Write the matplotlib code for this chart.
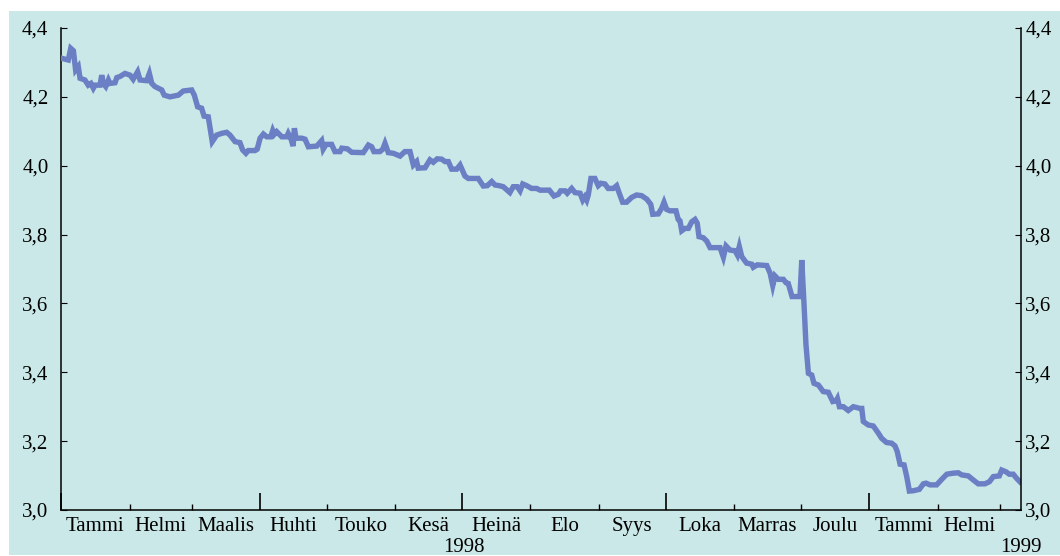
import matplotlib.pyplot as plt
import numpy as np
from matplotlib.patches import Rectangle

# days since 1 Jan 1998 and value
days = [0.3, 3.3, 4.4, 5.6, 6.6, 7.8, 8.6, 10.8, 12.3, 13.5, 14.6, 15.4, 17.6, 18.4,
        19.1, 20.2, 21.4, 22.1, 24.4, 25.2, 26.6, 28.9, 31.2, 32.6, 34.6, 35.7, 38.7,
        39.9, 41.0, 42.4, 45.5, 46.6, 49.2, 53.0, 55.2, 59.0, 60.2, 61.7, 63.5, 64.6,
        66.5, 68.3, 70.3, 72.6, 74.8, 76.3, 78.6, 80.8, 82.0, 83.5, 84.6, 87.6, 88.6,
        89.9, 91.4, 92.9, 94.7, 95.6, 96.3, 97.4, 99.7, 101.9, 102.6, 103.9, 104.8,
        105.4, 106.1, 108.7, 110.2, 111.7, 115.5, 117.7, 118.4, 119.7, 122.2, 123.7,
        126.0, 126.8, 129.3, 131.3, 136.5, 138.8, 140.3, 141.3, 144.0, 145.3, 146.3,
        147.8, 150.1, 153.1, 155.3, 157.6, 159.1, 160.6, 161.3, 164.4, 166.6, 168.1,
        169.9, 171.9, 173.4, 174.9, 176.4, 178.7, 180.2, 182.4, 183.9, 188.4, 190.7,
        192.5, 194.5, 196.0, 197.9, 199.7, 201.5, 202.7, 204.2, 206.0, 207.3, 208.5,
        210.3, 212.5, 214.8, 216.3, 220.5, 222.6, 224.6, 225.6, 227.6, 228.6, 230.6,
        232.1, 234.4, 235.6, 236.6, 237.4, 238.1, 239.3, 241.1, 242.6, 243.8, 245.6,
        247.1, 249.4, 250.9, 252.1, 253.6, 255.4, 257.7, 259.9, 262.2, 264.5, 266.3,
        267.2, 269.7, 271.2, 272.3, 273.5, 275.0, 277.7, 278.7, 279.5, 280.3, 281.8,
        283.3, 284.8, 286.3, 287.3, 288.1, 290.0, 291.6, 293.1, 297.6, 299.1, 300.3,
        302.1, 304.4, 305.4, 306.3, 307.4, 309.6, 311.9, 312.6, 314.4, 318.7, 320.2,
        321.4, 322.4, 323.9, 326.2, 327.4, 328.4, 330.1, 333.7, 334.5, 335.5, 336.4,
        337.5, 339.0, 340.0, 342.0, 344.2, 346.5, 348.5, 350.0, 350.6, 351.5, 353.3,
        355.5, 357.8, 360.8, 361.6, 362.3, 364.5, 366.8, 369.1, 370.6, 372.8, 375.1,
        376.6, 377.6, 378.9, 380.7, 381.9, 383.1, 384.9, 387.6, 389.4, 390.6, 392.4,
        395.4, 397.7, 400.0, 402.9, 405.2, 406.7, 409.7, 412.0, 414.2, 417.2, 419.2,
        421.0, 423.7, 424.8, 426.7, 428.2, 430.0, 431.5, 433.0]
values = [4.312, 4.307, 4.341, 4.334, 4.278, 4.288, 4.254, 4.249, 4.234, 4.239, 4.225,
          4.234, 4.234, 4.263, 4.239, 4.230, 4.249, 4.239, 4.241, 4.256, 4.259, 4.268,
          4.263, 4.251, 4.273, 4.249, 4.247, 4.268, 4.239, 4.230, 4.220, 4.205, 4.200,
          4.205, 4.217, 4.220, 4.205, 4.171, 4.167, 4.144, 4.142, 4.070, 4.089, 4.094,
          4.097, 4.089, 4.070, 4.067, 4.046, 4.036, 4.044, 4.044, 4.048, 4.080, 4.092,
          4.084, 4.084, 4.102, 4.091, 4.099, 4.084, 4.084, 4.094, 4.077, 4.057, 4.109,
          4.080, 4.080, 4.077, 4.055, 4.057, 4.073, 4.048, 4.062, 4.062, 4.041, 4.041,
          4.051, 4.049, 4.039, 4.038, 4.060, 4.055, 4.041, 4.041, 4.048, 4.065, 4.038,
          4.036, 4.028, 4.041, 4.041, 4.002, 4.012, 3.993, 3.994, 4.017, 4.010, 4.020,
          4.019, 4.012, 4.012, 3.990, 3.990, 4.002, 3.970, 3.963, 3.963, 3.941, 3.942,
          3.954, 3.944, 3.942, 3.939, 3.929, 3.922, 3.939, 3.939, 3.927, 3.947, 3.942,
          3.934, 3.934, 3.929, 3.929, 3.912, 3.917, 3.927, 3.927, 3.920, 3.934, 3.922,
          3.920, 3.900, 3.910, 3.900, 3.915, 3.963, 3.963, 3.942, 3.949, 3.947, 3.934,
          3.934, 3.942, 3.920, 3.894, 3.894, 3.908, 3.915, 3.913, 3.903, 3.888, 3.859,
          3.860, 3.876, 3.894, 3.873, 3.869, 3.869, 3.844, 3.840, 3.811, 3.818, 3.818,
          3.837, 3.844, 3.833, 3.794, 3.791, 3.781, 3.762, 3.762, 3.734, 3.767, 3.755,
          3.753, 3.741, 3.765, 3.736, 3.717, 3.714, 3.705, 3.712, 3.710, 3.688, 3.652,
          3.680, 3.670, 3.670, 3.660, 3.658, 3.620, 3.620, 3.726, 3.600, 3.480, 3.397,
          3.392, 3.368, 3.363, 3.344, 3.342, 3.315, 3.317, 3.324, 3.300, 3.300, 3.289,
          3.300, 3.295, 3.295, 3.257, 3.247, 3.244, 3.223, 3.208, 3.196, 3.194, 3.186,
          3.170, 3.133, 3.131, 3.097, 3.055, 3.056, 3.060, 3.076, 3.078, 3.073, 3.073,
          3.089, 3.104, 3.107, 3.108, 3.102, 3.099, 3.087, 3.076, 3.076, 3.082, 3.097,
          3.099, 3.116, 3.111, 3.104, 3.104, 3.092, 3.082]

month_names = ['Tammi', 'Helmi', 'Maalis', 'Huhti', 'Touko', 'Kesä', 'Heinä', 'Elo',
               'Syys', 'Loka', 'Marras', 'Joulu', 'Tammi', 'Helmi']
years = ['1998', '1999']
y_ticks = [3.0, 3.2, 3.4, 3.6, 3.8, 4.0, 4.2, 4.4]

bg = '#cae8e8'
line_color = '#6b80c4'
font = 'Liberation Serif'
fs = 15

plt.rcParams['font.family'] = [font, 'DejaVu Serif']

fig = plt.figure(figsize=(10.6, 5.56), dpi=100, facecolor='white')
fig.patches.append(Rectangle((9 / 1060, 1 / 556), 1, 544 / 556,
                             transform=fig.transFigure, facecolor=bg,
                             edgecolor='none', zorder=-10))
ax = fig.add_axes([61 / 1060, 46 / 556, 960 / 1060, 482 / 556])
ax.set_facecolor('none')

ax.plot(days, values, color=line_color, lw=3.9, solid_joinstyle='miter', zorder=3)

# month boundaries
start = np.datetime64('1998-01-01')
months = np.arange('1998-01', '1999-04', dtype='datetime64[M]').astype('datetime64[D]')
offs = (months - start).astype(int)
quarter = [o for m, o in zip(months, offs) if str(m)[5:7] in ('01', '04', '07', '10')]
other = [o for m, o in zip(months, offs) if str(m)[5:7] not in ('01', '04', '07', '10')]

ax.set_xlim(0, 433.5)
ax.set_ylim(3.0, 4.4)
ax.set_xticks(quarter)
ax.set_xticks(other, minor=True)
ax.tick_params(axis='x', which='major', direction='in', length=12, width=1.2,
               labelbottom=False)
ax.tick_params(axis='x', which='minor', direction='in', length=4, width=1)

xt = ax.get_xaxis_transform()
for i, name in enumerate(month_names):
    mid = (offs[i] + offs[i + 1]) / 2
    ax.text(mid, -0.0436, name, transform=xt, ha='center', va='baseline', fontsize=fs)
ax.text(182, -0.088, years[0], transform=xt, ha='center', va='baseline', fontsize=fs)
ax.text(433.5, -0.088, years[1], transform=xt, ha='center', va='baseline', fontsize=fs)

ylabels = [f'{v:.1f}'.replace('.', ',') for v in y_ticks]
ax.set_yticks(y_ticks)
ax.set_yticklabels(ylabels, fontsize=fs)
ax.tick_params(axis='y', direction='in', length=4, pad=9)

ax2 = ax.twinx()
ax2.set_ylim(3.0, 4.4)
ax2.set_yticks(y_ticks)
ax2.set_yticklabels(ylabels, fontsize=fs)
ax2.tick_params(axis='y', direction='in', length=4, pad=3)

for a in (ax, ax2):
    a.spines['top'].set_visible(False)
    for s in ('left', 'right', 'bottom'):
        a.spines[s].set_linewidth(1.1)
ax2.spines['left'].set_visible(False)
ax2.spines['bottom'].set_visible(False)
ax.spines['right'].set_visible(False)

fig.savefig('out.png', dpi=100, facecolor='white')
